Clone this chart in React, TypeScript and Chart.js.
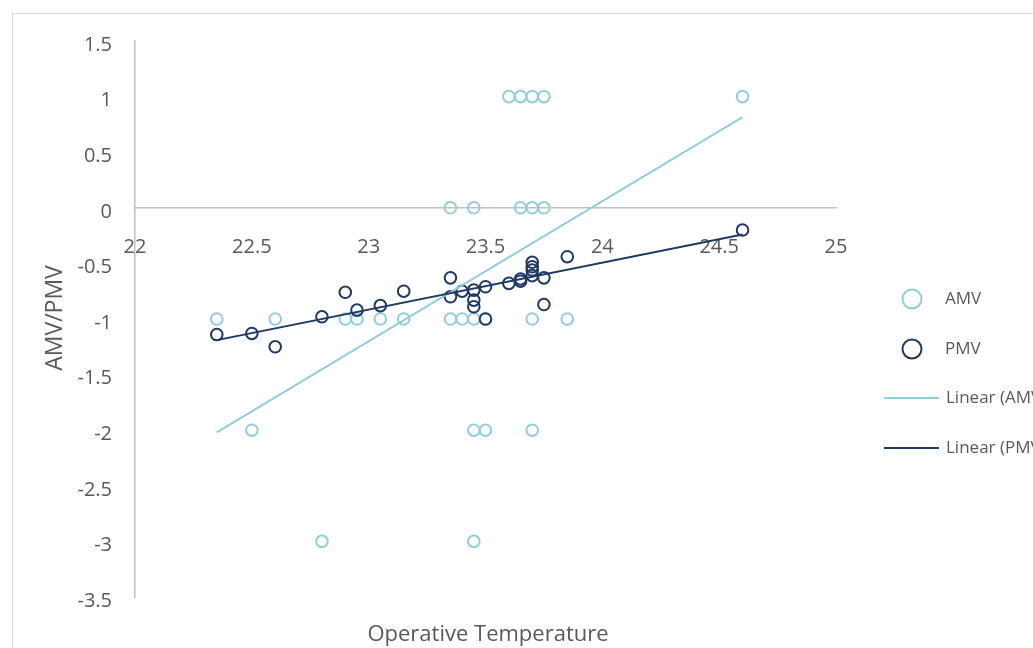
import { useEffect, useRef } from "react";
import { Chart, registerables } from "chart.js";

Chart.register(...registerables);

// ---- data ----
const amvX = [
  23.6, 23.65, 23.7, 23.75, 24.6,
  23.35, 23.45, 23.65, 23.7, 23.75,
  22.35, 22.6, 22.9, 22.95, 23.05, 23.15, 23.35, 23.4, 23.45, 23.5, 23.7, 23.85,
  22.5, 23.45, 23.5, 23.7,
  22.8, 23.45,
];
const amvY = [
  1, 1, 1, 1, 1,
  0, 0, 0, 0, 0,
  -1, -1, -1, -1, -1, -1, -1, -1, -1, -1, -1, -1,
  -2, -2, -2, -2,
  -3, -3,
];
const pmvX = [
  22.35, 22.5, 22.6, 22.8, 22.9, 22.95, 23.05, 23.15, 23.35, 23.35, 23.4, 23.45, 23.45, 23.45,
  23.5, 23.5, 23.6, 23.65, 23.65, 23.7, 23.7, 23.7, 23.7, 23.75, 23.75, 23.85, 24.6,
];
const pmvY = [
  -1.14, -1.13, -1.25, -0.98, -0.76, -0.92, -0.88, -0.75, -0.63, -0.8, -0.75, -0.74, -0.83, -0.89,
  -0.71, -1.0, -0.68, -0.66, -0.64, -0.49, -0.53, -0.56, -0.61, -0.63, -0.87, -0.44, -0.2,
];
const amvTrendX = [22.35, 24.6];
const amvTrendY = [-2.02, 0.815];
const pmvTrendX = [22.35, 24.6];
const pmvTrendY = [-1.19, -0.24];

const seriesNames = ["AMV", "PMV", "Linear (AMV)", "Linear (PMV)"];
const xTitle = "Operative Temperature";
const yTitle = "AMV/PMV";
const xMin = 22, xMax = 25, xStep = 0.5;
const yMin = -3.5, yMax = 1.5, yStep = 0.5;

// ---- styles ----
const AMV_COLOR = "#92cddc";
const PMV_COLOR = "#1f3864";
const TEXT_COLOR = "#595959";
const AXIS_COLOR = "#bfbfbf";
const FRAME_COLOR = "#d9d9d9";
const FONT = "'Open Sans', sans-serif";

const zip = (xs: number[], ys: number[]) => xs.map((x, i) => ({ x, y: ys[i] }));
const fmt = (v: any) => String(Math.round(Number(v) * 100) / 100);

const decorPlugin = {
  id: "decor",
  afterDraw(chart: any) {
    const ctx = chart.ctx as CanvasRenderingContext2D;
    ctx.save();
    // frame
    ctx.strokeStyle = FRAME_COLOR;
    ctx.lineWidth = 1;
    ctx.strokeRect(12.5, 13.5, 1100, 700);

    // axis titles
    ctx.fillStyle = TEXT_COLOR;
    ctx.font = `22px ${FONT}`;
    ctx.textAlign = "center";
    ctx.textBaseline = "alphabetic";
    ctx.fillText(xTitle, 488, 641);
    ctx.save();
    ctx.translate(62, 318);
    ctx.rotate(-Math.PI / 2);
    ctx.font = `23px ${FONT}`;
    ctx.fillText(yTitle, 0, 0);
    ctx.restore();

    // legend
    ctx.font = `17px ${FONT}`;
    ctx.textAlign = "left";
    ctx.textBaseline = "middle";
    const rows = [
      { y: 299, color: AMV_COLOR, marker: true },
      { y: 349, color: PMV_COLOR, marker: true },
      { y: 398, color: AMV_COLOR, marker: false },
      { y: 448, color: PMV_COLOR, marker: false },
    ];
    rows.forEach((r, i) => {
      ctx.strokeStyle = r.color;
      ctx.lineWidth = 2;
      if (r.marker) {
        ctx.beginPath();
        ctx.arc(912, r.y, 9.5, 0, Math.PI * 2);
        ctx.stroke();
        ctx.fillStyle = TEXT_COLOR;
        ctx.fillText(seriesNames[i], 945, r.y);
      } else {
        ctx.beginPath();
        ctx.moveTo(884, r.y);
        ctx.lineTo(939, r.y);
        ctx.stroke();
        ctx.fillStyle = TEXT_COLOR;
        ctx.fillText(seriesNames[i], 946, r.y);
      }
    });
    ctx.restore();
  },
};

export default function App() {
  const ref = useRef<HTMLCanvasElement | null>(null);
  useEffect(() => {
    if (!ref.current) return;
    Chart.defaults.font.family = FONT;
    const chart = new Chart(ref.current, {
      type: "scatter",
      data: {
        datasets: [
          {
            label: seriesNames[3],
            data: zip(pmvTrendX, pmvTrendY),
            showLine: true,
            borderColor: PMV_COLOR,
            borderWidth: 2,
            pointRadius: 0,
            order: 0,
          },
          {
            label: seriesNames[2],
            data: zip(amvTrendX, amvTrendY),
            showLine: true,
            borderColor: AMV_COLOR,
            borderWidth: 2,
            pointRadius: 0,
            order: 1,
          },
          {
            label: seriesNames[1],
            data: zip(pmvX, pmvY),
            pointRadius: 5.8,
            pointBorderWidth: 2,
            pointBorderColor: PMV_COLOR,
            pointBackgroundColor: "rgba(0,0,0,0)",
            borderColor: PMV_COLOR,
            order: 2,
          },
          {
            label: seriesNames[0],
            data: zip(amvX, amvY),
            pointRadius: 5.8,
            pointBorderWidth: 2,
            pointBorderColor: AMV_COLOR,
            pointBackgroundColor: "rgba(0,0,0,0)",
            borderColor: AMV_COLOR,
            order: 3,
          },
        ],
      },
      options: {
        responsive: false,
        animation: false,
        devicePixelRatio: 1,
        layout: { padding: { left: 0, top: 41, right: 197, bottom: 51 } },
        plugins: { legend: { display: false }, tooltip: { enabled: false }, title: { display: false } },
        scales: {
          x: {
            type: "linear",
            position: { y: 0 } as any,
            min: xMin,
            max: xMax,
            grid: { display: false, drawTicks: false },
            border: { display: true, color: AXIS_COLOR, width: 1.5 },
            ticks: { stepSize: xStep, color: TEXT_COLOR, font: { size: 20, family: FONT }, padding: 27, maxRotation: 0, callback: fmt },
            afterFit: (s: any) => { s.height = 0; },
          },
          y: {
            type: "linear",
            position: "left",
            min: yMin,
            max: yMax,
            grid: { display: false, drawTicks: false },
            border: { display: true, color: AXIS_COLOR, width: 1.5 },
            ticks: { stepSize: yStep, color: TEXT_COLOR, font: { size: 20, family: FONT }, padding: 23, labelOffset: 4, callback: fmt },
            afterFit: (s: any) => { s.width = 135; },
          },
        },
      },
      plugins: [decorPlugin],
    });
    return () => chart.destroy();
  }, []);
  return (
    <div style={{ position: "fixed", left: 0, top: 0, width: 1033, height: 648, background: "#fff" }}>
      <canvas ref={ref} width={1033} height={648} />
    </div>
  );
}
